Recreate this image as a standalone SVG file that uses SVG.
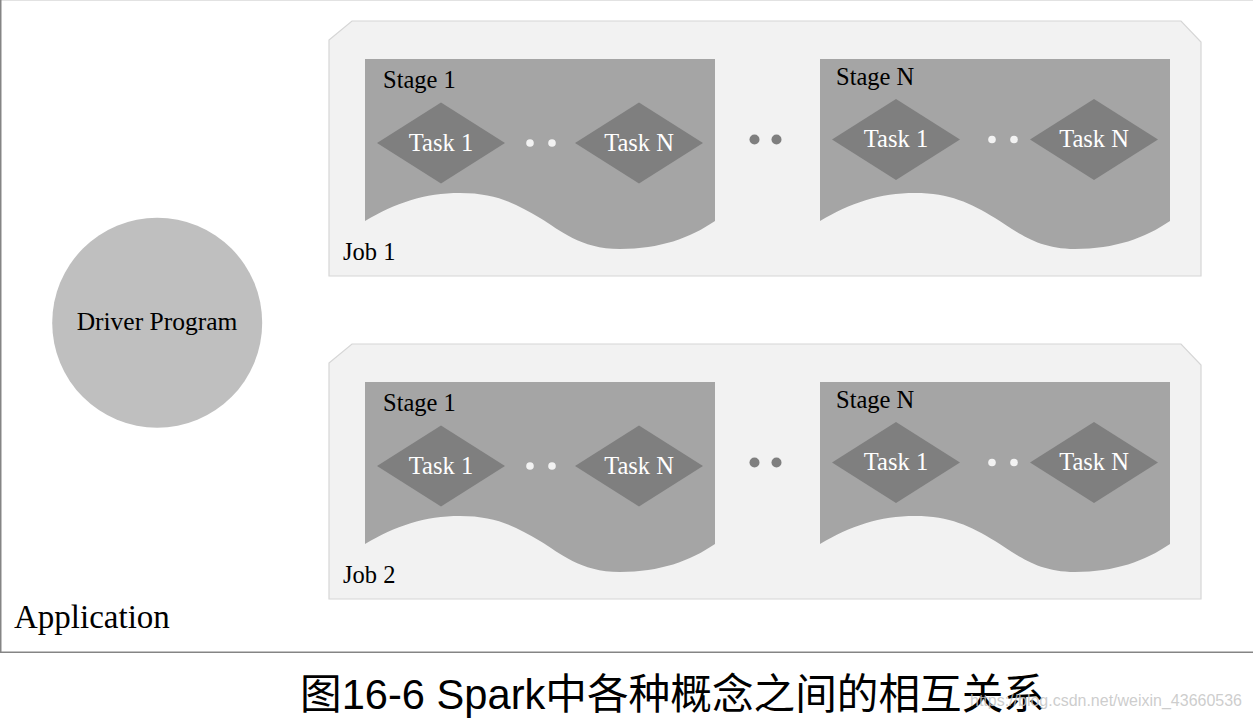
<svg xmlns="http://www.w3.org/2000/svg" width="1253" height="722" viewBox="0 0 1253 722">
<style>
.job{fill:#f2f2f2;stroke:#d6d6d6;stroke-width:1.2}
.stage{fill:#a5a5a5}
.task{fill:#7f7f7f}
.wdot{fill:#f2f2f2}
.gdot{fill:#7f7f7f}
.lbl{font-family:"Liberation Serif","Times New Roman",serif;font-size:24.5px;fill:#000}
.tl{font-family:"Liberation Serif","Times New Roman",serif;font-size:24.5px;fill:#fff;text-anchor:middle}
</style>
<defs>
<path id="stageShape" d="M0,0 H350 V162 C325,179 295,190 255,190 C215,190 195,171 175,159 C150,144 130,134 95,134 C60,134 30,144 0,162 Z"/>
</defs>
<rect x="0" y="0" width="1253" height="722" fill="#fff"/>
<g id="application">
<line x1="0" y1="0.5" x2="1253" y2="0.5" stroke="#e2e2e2" stroke-width="1"/>
<line x1="0.75" y1="0" x2="0.75" y2="652" stroke="#858585" stroke-width="1.5"/>
<line x1="0" y1="652.25" x2="1253" y2="652.25" stroke="#858585" stroke-width="1.5"/>
<text x="14" y="628" font-family="Liberation Serif, Times New Roman, serif" font-size="33" fill="#000">Application</text>
</g>
<g id="driver">
<circle cx="157.2" cy="322.8" r="105" fill="#bfbfbf"/>
<text x="157" y="330" font-family="Liberation Serif, Times New Roman, serif" font-size="25.5" fill="#000" text-anchor="middle">Driver Program</text>
</g>
<g id="job1">
<path class="job" d="M329,40 L352,21 L1181,21 L1201,42 L1201,276 L329,276 Z"/>
<text class="lbl" x="343" y="260">Job 1</text>
<g id="job1-stage1">
<use href="#stageShape" class="stage" x="365" y="59"/>
<text class="lbl" x="383" y="88">Stage 1</text>
<g id="job1-stage1-task1"><polygon class="task" points="377,143 441,102.5 505,143 441,183.5"/><text class="tl" x="441" y="150.5">Task 1</text></g>
<circle class="wdot" cx="530" cy="143" r="3.8"/><circle class="wdot" cx="552" cy="143" r="3.8"/>
<g id="job1-stage1-taskN"><polygon class="task" points="575,143 639,102.5 703,143 639,183.5"/><text class="tl" x="639" y="150.5">Task N</text></g>
</g>
<circle class="gdot" cx="754.5" cy="139.5" r="5"/><circle class="gdot" cx="776.5" cy="139.5" r="5"/>
<g id="job1-stageN">
<use href="#stageShape" class="stage" x="820" y="59"/>
<text class="lbl" x="836" y="85">Stage N</text>
<g id="job1-stageN-task1"><polygon class="task" points="832,139.5 896,99 960,139.5 896,180"/><text class="tl" x="896" y="147">Task 1</text></g>
<circle class="wdot" cx="992" cy="139.5" r="3.8"/><circle class="wdot" cx="1014" cy="139.5" r="3.8"/>
<g id="job1-stageN-taskN"><polygon class="task" points="1030,139.5 1094,99 1158,139.5 1094,180"/><text class="tl" x="1094" y="147">Task N</text></g>
</g>
</g>
<g id="job2" transform="translate(0,323)">
<path class="job" d="M329,40 L352,21 L1181,21 L1201,42 L1201,276 L329,276 Z"/>
<text class="lbl" x="343" y="260">Job 2</text>
<g id="job2-stage1">
<use href="#stageShape" class="stage" x="365" y="59"/>
<text class="lbl" x="383" y="88">Stage 1</text>
<g id="job2-stage1-task1"><polygon class="task" points="377,143 441,102.5 505,143 441,183.5"/><text class="tl" x="441" y="150.5">Task 1</text></g>
<circle class="wdot" cx="530" cy="143" r="3.8"/><circle class="wdot" cx="552" cy="143" r="3.8"/>
<g id="job2-stage1-taskN"><polygon class="task" points="575,143 639,102.5 703,143 639,183.5"/><text class="tl" x="639" y="150.5">Task N</text></g>
</g>
<circle class="gdot" cx="754.5" cy="139.5" r="5"/><circle class="gdot" cx="776.5" cy="139.5" r="5"/>
<g id="job2-stageN">
<use href="#stageShape" class="stage" x="820" y="59"/>
<text class="lbl" x="836" y="85">Stage N</text>
<g id="job2-stageN-task1"><polygon class="task" points="832,139.5 896,99 960,139.5 896,180"/><text class="tl" x="896" y="147">Task 1</text></g>
<circle class="wdot" cx="992" cy="139.5" r="3.8"/><circle class="wdot" cx="1014" cy="139.5" r="3.8"/>
<g id="job2-stageN-taskN"><polygon class="task" points="1030,139.5 1094,99 1158,139.5 1094,180"/><text class="tl" x="1094" y="147">Task N</text></g>
</g>
</g>
<g id="connectors"></g>
<g id="caption">
<text x="300" y="709" font-family="Liberation Sans, Noto Sans CJK SC, sans-serif" font-size="42" fill="#000" textLength="745" lengthAdjust="spacingAndGlyphs">图16-6 Spark中各种概念之间的相互关系</text>
<text x="970" y="706" font-family="Liberation Sans, Arial, sans-serif" font-size="17" fill="#c4c4c4" fill-opacity="0.85" textLength="272" lengthAdjust="spacingAndGlyphs">https://blog.csdn.net/weixin_43660536</text>
</g>
</svg>
